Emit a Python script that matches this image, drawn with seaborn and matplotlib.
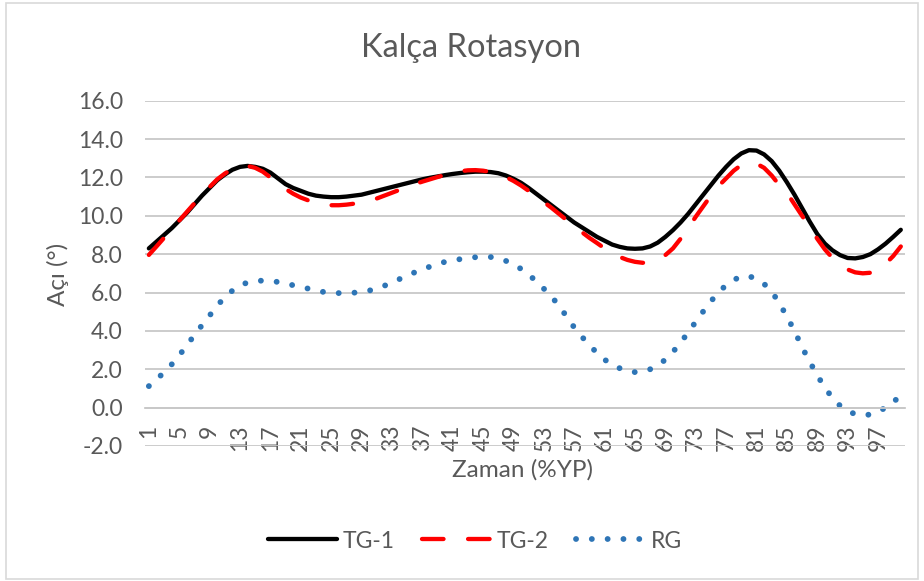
import numpy as np
import pandas as pd
import seaborn as sns
import matplotlib.pyplot as plt
from matplotlib.patches import Rectangle

# gait cycle percent, 1..100
zaman = list(range(1, 101))

tg1 = [8.30, 8.65, 9.00, 9.35, 9.75, 10.15, 10.60, 11.05, 11.45, 11.85,
       12.15, 12.40, 12.55, 12.60, 12.55, 12.45, 12.25, 11.95, 11.65, 11.45,
       11.30, 11.15, 11.05, 11.00, 10.97, 10.97, 11.00, 11.05, 11.10, 11.20,
       11.30, 11.40, 11.50, 11.60, 11.70, 11.80, 11.90, 11.98, 12.05, 12.12,
       12.18, 12.23, 12.27, 12.30, 12.30, 12.28, 12.22, 12.10, 11.93, 11.72,
       11.45, 11.15, 10.85, 10.55, 10.25, 9.95, 9.65, 9.40, 9.15, 8.90,
       8.70, 8.50, 8.38, 8.30, 8.28, 8.30, 8.40, 8.60, 8.90, 9.25,
       9.65, 10.10, 10.60, 11.10, 11.60, 12.10, 12.55, 12.95, 13.25, 13.42,
       13.40, 13.20, 12.85, 12.35, 11.75, 11.10, 10.40, 9.70, 9.05, 8.55,
       8.20, 7.95, 7.80, 7.78, 7.85, 8.00, 8.25, 8.55, 8.90, 9.27]

tg2 = [7.96, 8.40, 8.85, 9.30, 9.75, 10.20, 10.65, 11.10, 11.50, 11.90,
       12.20, 12.45, 12.58, 12.60, 12.50, 12.30, 12.00, 11.70, 11.40, 11.15,
       10.95, 10.80, 10.68, 10.60, 10.55, 10.55, 10.58, 10.63, 10.70, 10.80,
       10.90, 11.05, 11.20, 11.35, 11.50, 11.65, 11.78, 11.90, 12.02, 12.13,
       12.23, 12.32, 12.37, 12.38, 12.35, 12.28, 12.17, 12.02, 11.82, 11.58,
       11.30, 11.02, 10.72, 10.42, 10.10, 9.78, 9.46, 9.15, 8.85, 8.58,
       8.30, 8.05, 7.85, 7.70, 7.60, 7.55, 7.55, 7.70, 7.95, 8.30,
       8.80, 9.35, 9.95, 10.50, 11.05, 11.55, 11.95, 12.35, 12.65, 12.78,
       12.72, 12.50, 12.10, 11.60, 11.20, 10.60, 10.00, 9.42, 8.80, 8.25,
       7.80, 7.45, 7.20, 7.05, 7.00, 7.03, 7.20, 7.50, 7.90, 8.40]

rg = [1.12, 1.45, 1.85, 2.25, 2.72, 3.25, 3.78, 4.30, 4.80, 5.32,
      5.75, 6.10, 6.38, 6.52, 6.60, 6.62, 6.60, 6.55, 6.46, 6.38,
      6.30, 6.20, 6.10, 6.03, 5.99, 5.97, 5.97, 5.99, 6.03, 6.10,
      6.20, 6.35, 6.53, 6.70, 6.88, 7.05, 7.20, 7.35, 7.48, 7.60,
      7.68, 7.74, 7.80, 7.84, 7.86, 7.85, 7.78, 7.65, 7.48, 7.23,
      6.92, 6.60, 6.20, 5.80, 5.30, 4.75, 4.18, 3.70, 3.26, 2.85,
      2.50, 2.25, 2.05, 1.90, 1.85, 1.88, 2.00, 2.20, 2.50, 2.90,
      3.40, 3.90, 4.48, 5.02, 5.55, 5.98, 6.40, 6.65, 6.85, 6.85,
      6.72, 6.45, 6.05, 5.45, 4.75, 4.00, 3.15, 2.40, 1.68, 1.05,
      0.50, 0.10, -0.18, -0.34, -0.40, -0.36, -0.22, 0.00, 0.33, 0.55]

y_ticks = np.arange(-2, 17, 2)
x_ticks = list(range(1, 101, 4))

sns.set_style("white")
plt.rcParams['font.family'] = ['Lato', 'DejaVu Sans']
grey = '#595959'

fig = plt.figure(figsize=(9.24, 5.81), dpi=100)
ax = fig.add_axes([0.157, 0.2324, 0.822, 0.5943])

sns.lineplot(x=zaman, y=tg1, ax=ax, color='black', linewidth=3.1,
             solid_capstyle='round', label='TG-1')
sns.lineplot(x=zaman, y=tg2, ax=ax, color='#ff0000', linewidth=3.1,
             linestyle=(0, (5, 5.7)), dash_capstyle='round', label='TG-2')
sns.lineplot(x=zaman, y=rg, ax=ax, color='#2e75b6', linewidth=4.2,
             linestyle=(0, (0.01, 2.7)), dash_capstyle='round', label='RG')

ax.set_xlim(0.5, 100.5)
ax.set_ylim(-2, 16)

# x axis crosses at 0, like the Excel original
for s in ['top', 'right', 'left']:
    ax.spines[s].set_visible(False)
ax.spines['bottom'].set_position(('data', 0))
ax.spines['bottom'].set_color('#c8c8c8')
ax.spines['bottom'].set_linewidth(1.3)

ax.set_yticks(y_ticks)
ax.set_yticklabels(['%.1f' % v for v in y_ticks])
ax.set_xticks(x_ticks)
ax.set_xticklabels([str(v) for v in x_ticks])
ax.grid(axis='y', color='#c8c8c8', linewidth=1.3)
ax.set_axisbelow(True)
ax.tick_params(axis='y', length=0, pad=16, labelsize=16.5, labelcolor=grey)
ax.tick_params(axis='x', length=0, pad=12, labelsize=16.5, labelcolor=grey,
               labelrotation=90)

ax.set_xlabel('')
ax.set_ylabel('')
fig.text(523 / 924, 1 - 470 / 581, 'Zaman (%YP)', ha='center', va='center',
         fontsize=17.5, color=grey)
fig.text(58 / 924, 1 - 274 / 581, 'Açı (°)', ha='center', va='center',
         rotation=90, fontsize=17.5, color=grey)
fig.text(471 / 924, 1 - 48 / 581, 'Kalça Rotasyon', ha='center', va='center',
         fontsize=23.5, color=grey)

ax.legend_.remove()
handles, labels = ax.get_legend_handles_labels()
fig.legend(handles, labels, loc='center', bbox_to_anchor=(475 / 924, 1 - 541 / 581),
           ncol=3, frameon=False, fontsize=16.5, labelcolor=grey,
           handlelength=3.0, handletextpad=0.25, columnspacing=1.2)

fig.patches.append(Rectangle((0.006, 0.004), 0.988, 0.99, transform=fig.transFigure,
                             fill=False, edgecolor='#d9d9d9', linewidth=1.2))

fig.savefig('out.png', dpi=100)
